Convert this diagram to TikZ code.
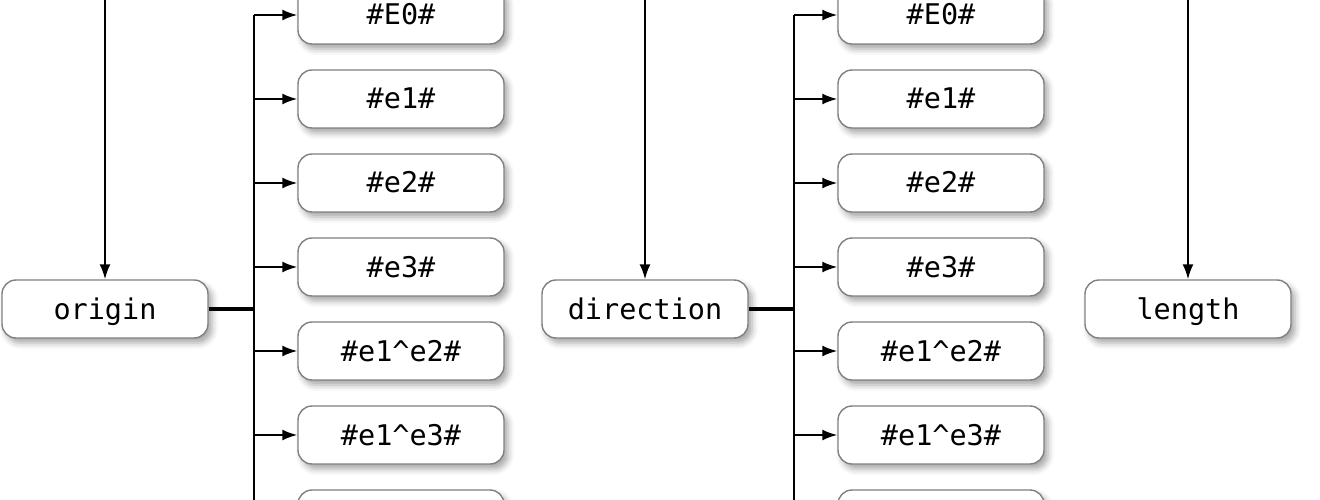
\documentclass[tikz,border=0pt]{standalone}
\usepackage{fontspec}
\setmonofont{DejaVu Sans Mono}
\usetikzlibrary{arrows.meta,shadows.blur}

\tikzset{
  field/.style={draw=black!50, line width=1.4pt, fill=white, rounded corners=14pt,
    minimum width=206pt, minimum height=58pt, inner sep=0pt,
    text height=22pt, text depth=2pt,
    font=\ttfamily\fontsize{28.5}{32}\selectfont,
    blur shadow={shadow xshift=4pt, shadow yshift=-5pt, shadow blur radius=6pt, shadow opacity=35}},
  link/.style={->, line width=1.9pt},
  spine/.style={line width=2.8pt},
  stub/.style={line width=4pt}
}

\begin{document}
\begin{tikzpicture}[x=1pt,y=-1pt,>={Latex[length=15pt,width=11pt]}]

\useasboundingbox (0,0) rectangle (1320,500);
\clip (0,0) rectangle (1320,500);

% top row
\node [field] (origin) at (105,309) {origin};
\node [field] (direction) at (645,309) {direction};
\node [field] (length) at (1188,309) {length};

\coordinate (otop) at (105,-20);
\coordinate (dtop) at (645,-20);
\coordinate (ltop) at (1188,-20);
\draw[link] (otop)--(origin);
\draw[link] (dtop)--(direction);
\draw[link] (ltop)--(length);

% origin parts
\node [field] (oE0) at (401,15) {\#E0\#};
\node [field] (oe1) at (401,99) {\#e1\#};
\node [field] (oe2) at (401,183) {\#e2\#};
\node [field] (oe3) at (401,267) {\#e3\#};
\node [field] (oe12) at (401,351) {\#e1\^{}e2\#};
\node [field] (oe13) at (401,435) {\#e1\^{}e3\#};
\node [field] (oe23) at (401,519) {};

\coordinate (oj) at (254,309);
\draw[stub] (origin)--(oj);
\draw[spine] (oj |- oE0)--(oj |- oe23);
\draw[link] (oj |- oE0)--(oE0);
\draw[link] (oj |- oe1)--(oe1);
\draw[link] (oj |- oe2)--(oe2);
\draw[link] (oj |- oe3)--(oe3);
\draw[link] (oj |- oe12)--(oe12);
\draw[link] (oj |- oe13)--(oe13);

% direction parts
\node [field] (dE0) at (941,15) {\#E0\#};
\node [field] (de1) at (941,99) {\#e1\#};
\node [field] (de2) at (941,183) {\#e2\#};
\node [field] (de3) at (941,267) {\#e3\#};
\node [field] (de12) at (941,351) {\#e1\^{}e2\#};
\node [field] (de13) at (941,435) {\#e1\^{}e3\#};
\node [field] (de23) at (941,519) {};

\coordinate (dj) at (794,309);
\draw[stub] (direction)--(dj);
\draw[spine] (dj |- dE0)--(dj |- de23);
\draw[link] (dj |- dE0)--(dE0);
\draw[link] (dj |- de1)--(de1);
\draw[link] (dj |- de2)--(de2);
\draw[link] (dj |- de3)--(de3);
\draw[link] (dj |- de12)--(de12);
\draw[link] (dj |- de13)--(de13);

\end{tikzpicture}
\end{document}
